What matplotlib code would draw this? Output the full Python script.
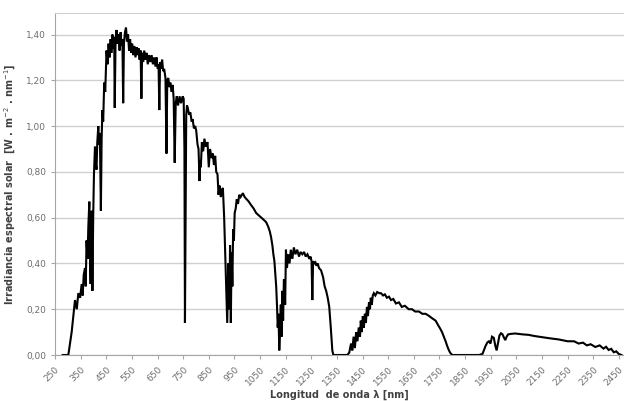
import numpy as np
import matplotlib.pyplot as plt

# (wavelength nm, irradiance W m-2 nm-1), band by band
uv_blue = [(280, 0.0), (295, 0.0), (302, 0.0), (315, 0.10), (328, 0.24),
           (335, 0.20), (341, 0.27), (348, 0.25), (354, 0.31), (358, 0.26),
           (362, 0.35), (367, 0.38), (370, 0.30), (373, 0.50), (377, 0.42),
           (380, 0.56), (384, 0.67), (387, 0.40), (389, 0.31), (391, 0.52),
           (393, 0.63), (396, 0.28), (399, 0.60), (402, 0.79), (406, 0.91),
           (409, 0.84), (412, 0.81), (415, 0.93), (419, 1.00), (422, 0.92),
           (425, 0.97), (429, 0.63), (432, 0.95), (435, 1.07), (438, 1.02),
           (442, 1.19), (446, 1.15), (451, 1.33)]
visible = [(455, 1.27), (459, 1.36), (463, 1.30), (467, 1.38), (470, 1.32),
           (474, 1.40), (478, 1.34), (481, 1.39), (483, 1.08), (486, 1.35),
           (490, 1.42), (494, 1.36), (498, 1.40), (502, 1.33), (506, 1.41),
           (510, 1.35), (513, 1.38), (516, 1.10), (519, 1.36), (523, 1.41),
           (527, 1.43), (531, 1.37), (535, 1.40), (539, 1.33), (543, 1.38),
           (547, 1.32), (551, 1.36), (555, 1.31), (559, 1.35), (564, 1.30),
           (568, 1.345), (572, 1.31), (576, 1.34), (580, 1.29), (584, 1.33),
           (587, 1.12), (590, 1.32), (594, 1.28), (598, 1.33), (603, 1.29),
           (607, 1.32), (612, 1.27), (617, 1.31), (622, 1.28), (627, 1.31),
           (632, 1.27), (637, 1.30), (642, 1.26), (646, 1.30), (651, 1.25),
           (654, 1.27), (657, 1.07), (660, 1.28), (664, 1.25), (668, 1.29),
           (672, 1.24), (676, 1.25), (681, 1.21), (685, 0.88), (688, 1.20),
           (692, 1.21), (696, 1.17), (700, 1.19), (705, 1.15), (709, 1.18),
           (713, 1.12), (717, 0.84), (721, 1.10), (725, 1.13), (730, 1.09),
           (736, 1.13), (742, 1.10), (748, 1.13), (752, 1.12), (755, 0.90),
           (757, 0.14), (759, 0.50), (762, 1.05), (765, 1.09), (768, 1.08)]
nir_a = [(773, 1.05), (778, 1.06), (783, 1.02), (787, 1.03), (792, 0.99),
         (797, 1.00), (801, 0.98), (806, 0.92), (810, 0.90), (814, 0.76),
         (816, 0.85), (819, 0.82), (823, 0.93), (828, 0.89), (833, 0.945),
         (838, 0.91), (845, 0.93), (850, 0.82), (855, 0.90), (861, 0.86),
         (866, 0.88), (870, 0.83), (875, 0.87), (879, 0.80), (884, 0.79),
         (888, 0.70), (892, 0.74), (897, 0.69), (901, 0.72), (905, 0.73),
         (910, 0.60), (914, 0.45), (918, 0.30), (922, 0.14), (926, 0.40),
         (930, 0.20), (933, 0.48), (936, 0.14), (939, 0.45), (942, 0.30),
         (945, 0.55), (948, 0.50), (951, 0.62), (955, 0.64), (959, 0.68),
         (964, 0.66), (969, 0.70), (974, 0.69), (983, 0.707)]
nir_b = [(990, 0.69), (998, 0.68), (1006, 0.67), (1015, 0.655), (1025, 0.64),
         (1035, 0.62), (1045, 0.61), (1055, 0.60), (1065, 0.59), (1074, 0.58),
         (1082, 0.56), (1088, 0.54), (1093, 0.515), (1098, 0.48),
         (1102, 0.44), (1106, 0.41), (1110, 0.35), (1113, 0.30), (1116, 0.22),
         (1119, 0.12), (1122, 0.18), (1125, 0.02), (1128, 0.10), (1131, 0.22),
         (1134, 0.08), (1137, 0.28), (1140, 0.15), (1143, 0.33), (1145, 0.31),
         (1148, 0.22), (1151, 0.46), (1155, 0.38), (1160, 0.44), (1165, 0.40),
         (1170, 0.46), (1176, 0.42), (1182, 0.47), (1188, 0.44), (1195, 0.46),
         (1202, 0.43), (1208, 0.45), (1215, 0.44), (1222, 0.45), (1228, 0.43),
         (1235, 0.44), (1242, 0.42), (1247, 0.43), (1251, 0.41), (1254, 0.24),
         (1257, 0.41), (1261, 0.40), (1266, 0.405), (1270, 0.39),
         (1275, 0.40), (1280, 0.38), (1288, 0.37), (1296, 0.34), (1302, 0.30),
         (1308, 0.28), (1314, 0.25), (1320, 0.21), (1326, 0.12), (1332, 0.02),
         (1336, 0.0)]
nir_c = [(1350, 0.0), (1370, 0.0), (1390, 0.0), (1398, 0.01), (1405, 0.05),
         (1410, 0.02), (1415, 0.08), (1420, 0.03), (1425, 0.10), (1430, 0.06),
         (1435, 0.12), (1440, 0.08), (1443, 0.15), (1447, 0.10), (1451, 0.17),
         (1455, 0.12), (1459, 0.18), (1463, 0.14), (1467, 0.21), (1471, 0.17),
         (1475, 0.23), (1479, 0.20), (1482, 0.25), (1486, 0.22), (1490, 0.26),
         (1494, 0.27), (1500, 0.26), (1507, 0.275), (1515, 0.27),
         (1522, 0.27), (1530, 0.26), (1537, 0.265), (1545, 0.25),
         (1553, 0.255), (1561, 0.24), (1570, 0.245), (1580, 0.225),
         (1592, 0.23), (1603, 0.21), (1615, 0.215), (1630, 0.20),
         (1643, 0.20), (1655, 0.19), (1670, 0.19), (1683, 0.18),
         (1696, 0.18), (1710, 0.17), (1722, 0.16), (1735, 0.15),
         (1745, 0.13), (1753, 0.115), (1760, 0.10), (1767, 0.08),
         (1774, 0.06), (1780, 0.04), (1787, 0.02), (1793, 0.008)]
swir = [(1800, 0.0), (1850, 0.0), (1905, 0.0), (1918, 0.005), (1923, 0.02),
        (1930, 0.04), (1937, 0.055), (1943, 0.06), (1949, 0.05), (1955, 0.08),
        (1962, 0.075), (1968, 0.04), (1973, 0.02), (1978, 0.05), (1984, 0.085),
        (1990, 0.095), (1996, 0.09), (2002, 0.075), (2007, 0.065), (2012, 0.08),
        (2018, 0.09), (2027, 0.092), (2045, 0.094), (2075, 0.09), (2098, 0.088),
        (2120, 0.083), (2149, 0.078), (2180, 0.073), (2215, 0.068),
        (2250, 0.06), (2275, 0.06), (2293, 0.05), (2310, 0.054),
        (2325, 0.042), (2340, 0.047), (2358, 0.035), (2375, 0.042),
        (2390, 0.028), (2400, 0.036), (2410, 0.022), (2420, 0.027),
        (2430, 0.012), (2440, 0.016), (2449, 0.005), (2460, 0.0)]

xticks = list(range(250, 2451, 100))
yticks = [0.0, 0.2, 0.4, 0.6, 0.8, 1.0, 1.2, 1.4]

spectrum = np.array(uv_blue + visible + nir_a + nir_b + nir_c + swir)
wl, irr = spectrum[:, 0], spectrum[:, 1]

grey = '#a6a6a6'
txt = '#404040'
ticktxt = '#6e6e6e'

fig = plt.figure(figsize=(6.24, 4.01), dpi=100)
ax = fig.add_axes([55 / 624, 46 / 401, 569 / 624, (355 - 13) / 401])

ax.plot(wl, irr, color='black', lw=1.5, solid_joinstyle='miter')

ax.set_xlim(250, 2470)
ax.set_ylim(0, 1.494)
ax.set_xticks(xticks)
ax.set_xticklabels([str(t) for t in xticks], rotation=45, ha='right',
                   rotation_mode='anchor', fontsize=6.5, color=ticktxt)
ax.set_yticks(yticks)
ax.set_yticklabels([f'{v:.2f}'.replace('.', ',') for v in yticks],
                   fontsize=6.5, color=ticktxt)
ax.grid(axis='y', color='#d0d0d0', lw=1.0)
ax.set_axisbelow(True)
ax.tick_params(axis='both', color=grey, length=3, width=0.8)
ax.tick_params(axis='x', pad=4)

for s in ['left', 'bottom']:
    ax.spines[s].set_color(grey)
ax.spines['top'].set_color('#d0d0d0')
ax.spines['right'].set_visible(False)

ax.set_xlabel('Longitud  de onda λ [nm]', fontsize=7, fontweight='bold',
              color=txt, labelpad=2)
ax.set_ylabel('Irradiancia espectral solar  [W . m$^{-2}$ . nm$^{-1}$]',
              fontsize=7, fontweight='bold', color=txt, labelpad=6)

fig.savefig('out.png', dpi=100)
